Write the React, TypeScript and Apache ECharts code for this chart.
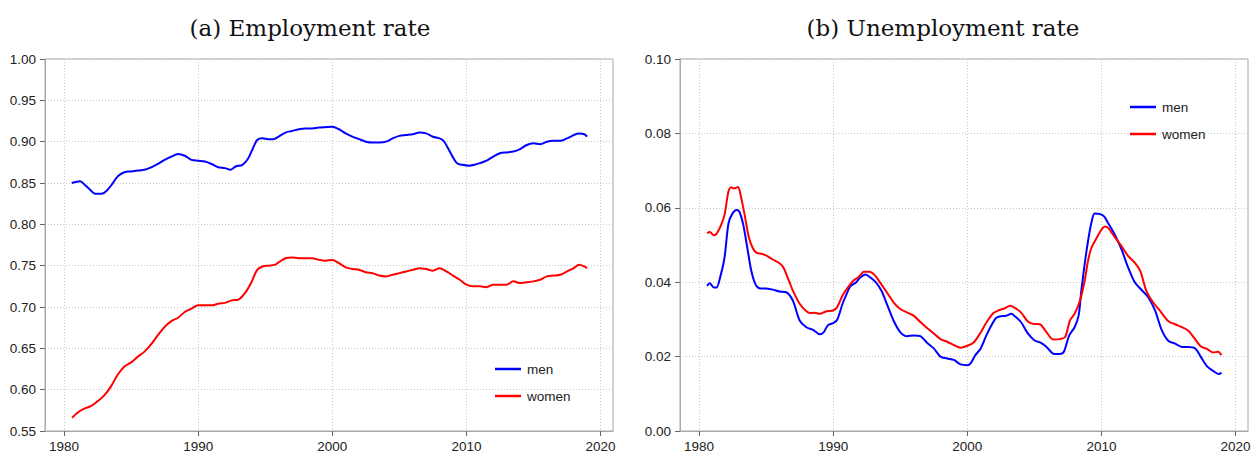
import React, { useEffect, useRef } from "react";
import * as echarts from "echarts";

const empMen: [number, number][] = [
  [1980.57, 0.850], [1981.2, 0.852], [1981.6, 0.847], [1982.0, 0.841], [1982.3, 0.837], [1982.8, 0.837],
  [1983.2, 0.841], [1983.6, 0.849], [1984.0, 0.858], [1984.5, 0.863], [1985.0, 0.864], [1985.5, 0.865],
  [1986.0, 0.866], [1986.5, 0.869], [1987.0, 0.873], [1987.5, 0.878], [1988.0, 0.882], [1988.5, 0.885],
  [1989.0, 0.883], [1989.5, 0.878], [1990.0, 0.877], [1990.5, 0.876], [1991.0, 0.873], [1991.5, 0.869],
  [1992.0, 0.868], [1992.4, 0.866], [1992.8, 0.870], [1993.3, 0.872], [1993.7, 0.879], [1994.0, 0.889],
  [1994.4, 0.902], [1994.8, 0.904], [1995.2, 0.903], [1995.6, 0.903], [1996.0, 0.906], [1996.5, 0.911],
  [1997.0, 0.913], [1997.5, 0.915], [1998.0, 0.916], [1998.5, 0.916], [1999.0, 0.917], [2000.0, 0.918],
  [2000.5, 0.915], [2001.0, 0.910], [2001.5, 0.906], [2002.0, 0.903], [2002.5, 0.900], [2003.0, 0.899],
  [2003.5, 0.899], [2004.0, 0.900], [2004.5, 0.904], [2005.0, 0.907], [2005.5, 0.908], [2006.0, 0.909],
  [2006.5, 0.911], [2007.0, 0.910], [2007.5, 0.906], [2008.0, 0.904], [2008.3, 0.901], [2008.6, 0.893],
  [2009.0, 0.881], [2009.3, 0.874], [2009.7, 0.872], [2010.2, 0.871], [2010.6, 0.872], [2011.0, 0.874],
  [2011.5, 0.877], [2012.0, 0.882], [2012.5, 0.886], [2013.0, 0.887], [2013.5, 0.888], [2014.0, 0.891],
  [2014.5, 0.896], [2015.0, 0.898], [2015.5, 0.897], [2016.0, 0.900], [2016.5, 0.901], [2017.0, 0.901],
  [2017.5, 0.904], [2018.0, 0.908], [2018.4, 0.910], [2018.8, 0.909], [2019.0, 0.906],
];

const empWomen: [number, number][] = [
  [1980.6, 0.566], [1981.0, 0.572], [1981.5, 0.577], [1982.0, 0.580], [1982.5, 0.586], [1983.0, 0.593],
  [1983.5, 0.604], [1984.0, 0.618], [1984.5, 0.628], [1985.0, 0.633], [1985.5, 0.640], [1986.0, 0.646],
  [1986.5, 0.655], [1987.0, 0.666], [1987.5, 0.676], [1988.0, 0.683], [1988.5, 0.687], [1989.0, 0.694],
  [1989.5, 0.698], [1990.0, 0.702], [1990.5, 0.702], [1991.0, 0.702], [1991.5, 0.704], [1992.0, 0.705],
  [1992.5, 0.708], [1993.0, 0.709], [1993.5, 0.717], [1994.0, 0.731], [1994.4, 0.745], [1994.8, 0.749],
  [1995.2, 0.750], [1995.7, 0.751], [1996.0, 0.754], [1996.5, 0.759], [1997.0, 0.760], [1997.5, 0.759],
  [1998.0, 0.759], [1998.5, 0.759], [1999.0, 0.757], [1999.5, 0.756], [2000.0, 0.757], [2000.5, 0.753],
  [2001.0, 0.748], [2001.5, 0.746], [2002.0, 0.745], [2002.5, 0.742], [2003.0, 0.741], [2003.5, 0.738],
  [2004.0, 0.737], [2004.5, 0.739], [2005.0, 0.741], [2005.5, 0.743], [2006.0, 0.745], [2006.5, 0.747],
  [2007.0, 0.746], [2007.5, 0.744], [2008.0, 0.747], [2008.5, 0.743], [2009.0, 0.738], [2009.5, 0.733],
  [2010.0, 0.727], [2010.5, 0.725], [2011.0, 0.725], [2011.5, 0.724], [2012.0, 0.727], [2012.5, 0.727],
  [2013.0, 0.727], [2013.5, 0.731], [2014.0, 0.729], [2014.5, 0.730], [2015.0, 0.731], [2015.5, 0.733],
  [2016.0, 0.737], [2016.5, 0.738], [2017.0, 0.739], [2017.5, 0.743], [2018.0, 0.747], [2018.4, 0.751],
  [2018.8, 0.749], [2019.0, 0.747],
];

const unempMen: [number, number][] = [
  [1980.6, 0.0390], [1980.8, 0.0397], [1981.1, 0.0386], [1981.3, 0.0386], [1981.6, 0.0417], [1981.9, 0.0466],
  [1982.2, 0.0559], [1982.5, 0.0585], [1982.8, 0.0594], [1983.0, 0.0590], [1983.3, 0.0554], [1983.6, 0.0492],
  [1983.9, 0.0430], [1984.2, 0.0395], [1984.5, 0.0384], [1985.0, 0.0383], [1985.5, 0.0380], [1986.0, 0.0375],
  [1986.5, 0.0373], [1987.0, 0.0350], [1987.5, 0.0297], [1988.0, 0.0279], [1988.5, 0.0272], [1989.0, 0.0260],
  [1989.3, 0.0266], [1989.6, 0.0284], [1990.0, 0.0290], [1990.3, 0.0299], [1990.7, 0.0342], [1991.0, 0.0368],
  [1991.3, 0.0390], [1991.7, 0.0399], [1992.0, 0.0412], [1992.4, 0.0421], [1992.8, 0.0412], [1993.2, 0.0399],
  [1993.6, 0.0377], [1994.0, 0.0342], [1994.5, 0.0297], [1995.0, 0.0266], [1995.5, 0.0255], [1996.0, 0.0257],
  [1996.5, 0.0255], [1997.0, 0.0237], [1997.5, 0.0222], [1998.0, 0.0200], [1998.5, 0.0195], [1999.0, 0.0191],
  [1999.5, 0.0179], [2000.0, 0.0177], [2000.25, 0.0182], [2000.6, 0.0204], [2001.0, 0.0222], [2001.5, 0.0263],
  [2002.1, 0.0302], [2002.4, 0.0308], [2002.9, 0.0310], [2003.3, 0.0315], [2003.5, 0.0310], [2004.0, 0.0293],
  [2004.5, 0.0263], [2005.0, 0.0244], [2005.5, 0.0237], [2005.9, 0.0226], [2006.5, 0.0207], [2006.9, 0.0207],
  [2007.2, 0.0213], [2007.6, 0.0257], [2008.0, 0.0279], [2008.3, 0.0310], [2008.5, 0.0377], [2008.75, 0.0448],
  [2009.0, 0.0510], [2009.25, 0.0559], [2009.5, 0.0585], [2009.9, 0.0583], [2010.2, 0.0577], [2010.5, 0.0559],
  [2011.0, 0.0528], [2011.5, 0.0488], [2012.0, 0.0439], [2012.5, 0.0399], [2013.0, 0.0379], [2013.5, 0.0359],
  [2014.0, 0.0324], [2014.5, 0.0271], [2015.0, 0.0242], [2015.5, 0.0235], [2016.0, 0.0226], [2016.5, 0.0226],
  [2017.0, 0.0222], [2017.4, 0.0200], [2017.9, 0.0173], [2018.4, 0.0160], [2018.75, 0.0153], [2018.95, 0.0157],
];

const unempWomen: [number, number][] = [
  [1980.6, 0.0532], [1980.8, 0.0535], [1981.1, 0.0526], [1981.3, 0.0530], [1981.6, 0.0550], [1981.9, 0.0581],
  [1982.2, 0.0645], [1982.4, 0.0655], [1982.6, 0.0652], [1982.9, 0.0656], [1983.1, 0.0634], [1983.4, 0.0581],
  [1983.7, 0.0523], [1984.0, 0.0492], [1984.3, 0.0479], [1984.7, 0.0476], [1985.0, 0.0472], [1985.5, 0.0461],
  [1986.0, 0.0451], [1986.3, 0.0439], [1986.7, 0.0404], [1987.0, 0.0377], [1987.5, 0.0342], [1988.0, 0.0322],
  [1988.3, 0.0317], [1988.6, 0.0318], [1989.0, 0.0315], [1989.5, 0.0322], [1990.0, 0.0324], [1990.3, 0.0333],
  [1990.7, 0.0364], [1991.1, 0.0386], [1991.5, 0.0404], [1991.9, 0.0414], [1992.3, 0.0428], [1992.7, 0.0428],
  [1993.1, 0.0419], [1993.5, 0.0399], [1994.0, 0.0373], [1994.5, 0.0346], [1995.0, 0.0328], [1995.5, 0.0319],
  [1996.0, 0.0310], [1996.5, 0.0293], [1997.0, 0.0277], [1997.5, 0.0262], [1998.0, 0.0247], [1998.5, 0.0240],
  [1999.0, 0.0231], [1999.5, 0.0224], [2000.0, 0.0229], [2000.45, 0.0237], [2000.95, 0.0262], [2001.45, 0.0293],
  [2001.95, 0.0317], [2002.3, 0.0324], [2002.8, 0.0330], [2003.2, 0.0337], [2003.55, 0.0331], [2004.0, 0.0319],
  [2004.5, 0.0295], [2004.9, 0.0288], [2005.4, 0.0287], [2005.9, 0.0266], [2006.4, 0.0246], [2006.9, 0.0247],
  [2007.3, 0.0253], [2007.65, 0.0297], [2008.0, 0.0315], [2008.4, 0.0350], [2008.75, 0.0404], [2009.0, 0.0457],
  [2009.25, 0.0492], [2009.6, 0.0516], [2010.0, 0.0541], [2010.25, 0.0550], [2010.5, 0.0546], [2011.0, 0.0521],
  [2011.5, 0.0497], [2012.0, 0.0470], [2012.5, 0.0452], [2012.9, 0.0430], [2013.35, 0.0377], [2013.85, 0.0346],
  [2014.35, 0.0324], [2015.0, 0.0295], [2015.5, 0.0287], [2016.0, 0.0279], [2016.5, 0.0269], [2017.0, 0.0246],
  [2017.4, 0.0228], [2017.9, 0.0220], [2018.3, 0.0211], [2018.7, 0.0213], [2018.95, 0.0204],
];

const xTicks = [1980, 1990, 2000, 2010, 2020];
const titles = ["(a) Employment rate", "(b) Unemployment rate"];
const seriesNames = ["men", "women"];
const colors = ["#0000ff", "#ff0000"];

const LABEL_FONT = "Liberation Sans, Arial, sans-serif";
const TITLE_FONT = "DejaVu Serif, serif";

export default function App() {
  const ref = useRef<HTMLDivElement>(null);

  useEffect(() => {
    document.body.style.margin = "0";
    const chart = echarts.init(ref.current!, null, { renderer: "svg" });

    const xAxisCfg = (gridIndex: number) => ({
      type: "value",
      gridIndex,
      min: 1978.58,
      max: 2020.93,
      axisLine: { show: true, onZero: false, lineStyle: { color: "#a8a8a8", width: 1 } },
      axisTick: { show: true, customValues: xTicks, length: 5, lineStyle: { color: "#666" } },
      axisLabel: {
        customValues: xTicks,
        color: "#222",
        fontSize: 13.5,
        fontFamily: LABEL_FONT,
        margin: 8,
        formatter: (v: number) => String(Math.round(v)),
      },
      splitLine: { show: true, lineStyle: { type: [1, 2], color: "#c8c8c8", width: 1 } },
    });

    const yAxisCfg = (gridIndex: number, min: number, max: number, interval: number) => ({
      type: "value",
      gridIndex,
      min,
      max,
      interval,
      axisLine: { show: true, onZero: false, lineStyle: { color: "#a8a8a8", width: 1 } },
      axisTick: { show: true, length: 5, lineStyle: { color: "#666" } },
      axisLabel: {
        color: "#222",
        fontSize: 13.5,
        fontFamily: LABEL_FONT,
        margin: 9,
        formatter: (v: number) => v.toFixed(2),
      },
      splitLine: { show: true, lineStyle: { type: [1, 2], color: "#c8c8c8", width: 1 } },
    });

    const line = (name: string, idx: number, data: [number, number][], color: string) => ({
      type: "line",
      name,
      xAxisIndex: idx,
      yAxisIndex: idx,
      data,
      showSymbol: false,
      symbol: "none",
      smooth: 0.3,
      lineStyle: { color, width: 2 },
      itemStyle: { color },
    });

    const legendCfg = (left: number, top: number) => ({
      orient: "vertical",
      left,
      top,
      icon: "rect",
      itemWidth: 26,
      itemHeight: 2.5,
      itemGap: 13,
      data: seriesNames,
      textStyle: { fontSize: 13.5, fontFamily: LABEL_FONT, color: "#222", padding: [0, 0, 0, 1] },
    });

    const titleCfg = (text: string, center: number) => ({
      text,
      left: center,
      top: 11,
      textAlign: "center",
      textStyle: { fontFamily: TITLE_FONT, fontSize: 23, fontWeight: "normal", color: "#111" },
    });

    chart.setOption({
      animation: false,
      backgroundColor: "#ffffff",
      title: [titleCfg(titles[0], 305), titleCfg(titles[1], 938)],
      grid: [
        { left: 45, top: 59, width: 568, height: 376, show: true, borderColor: "#a8a8a8", borderWidth: 1, containLabel: false },
        { left: 680, top: 59, width: 568, height: 376, show: true, borderColor: "#a8a8a8", borderWidth: 1, containLabel: false },
      ],
      xAxis: [xAxisCfg(0), xAxisCfg(1)],
      yAxis: [yAxisCfg(0, 0.55, 1.0, 0.05), yAxisCfg(1, 0, 0.1, 0.02)],
      legend: [legendCfg(490, 357), legendCfg(1125, 95)],
      series: [
        line(seriesNames[0], 0, empMen, colors[0]),
        line(seriesNames[1], 0, empWomen, colors[1]),
        line(seriesNames[0], 1, unempMen, colors[0]),
        line(seriesNames[1], 1, unempWomen, colors[1]),
      ],
    });

    return () => chart.dispose();
  }, []);

  return <div ref={ref} style={{ width: 1258, height: 453 }} />;
}
